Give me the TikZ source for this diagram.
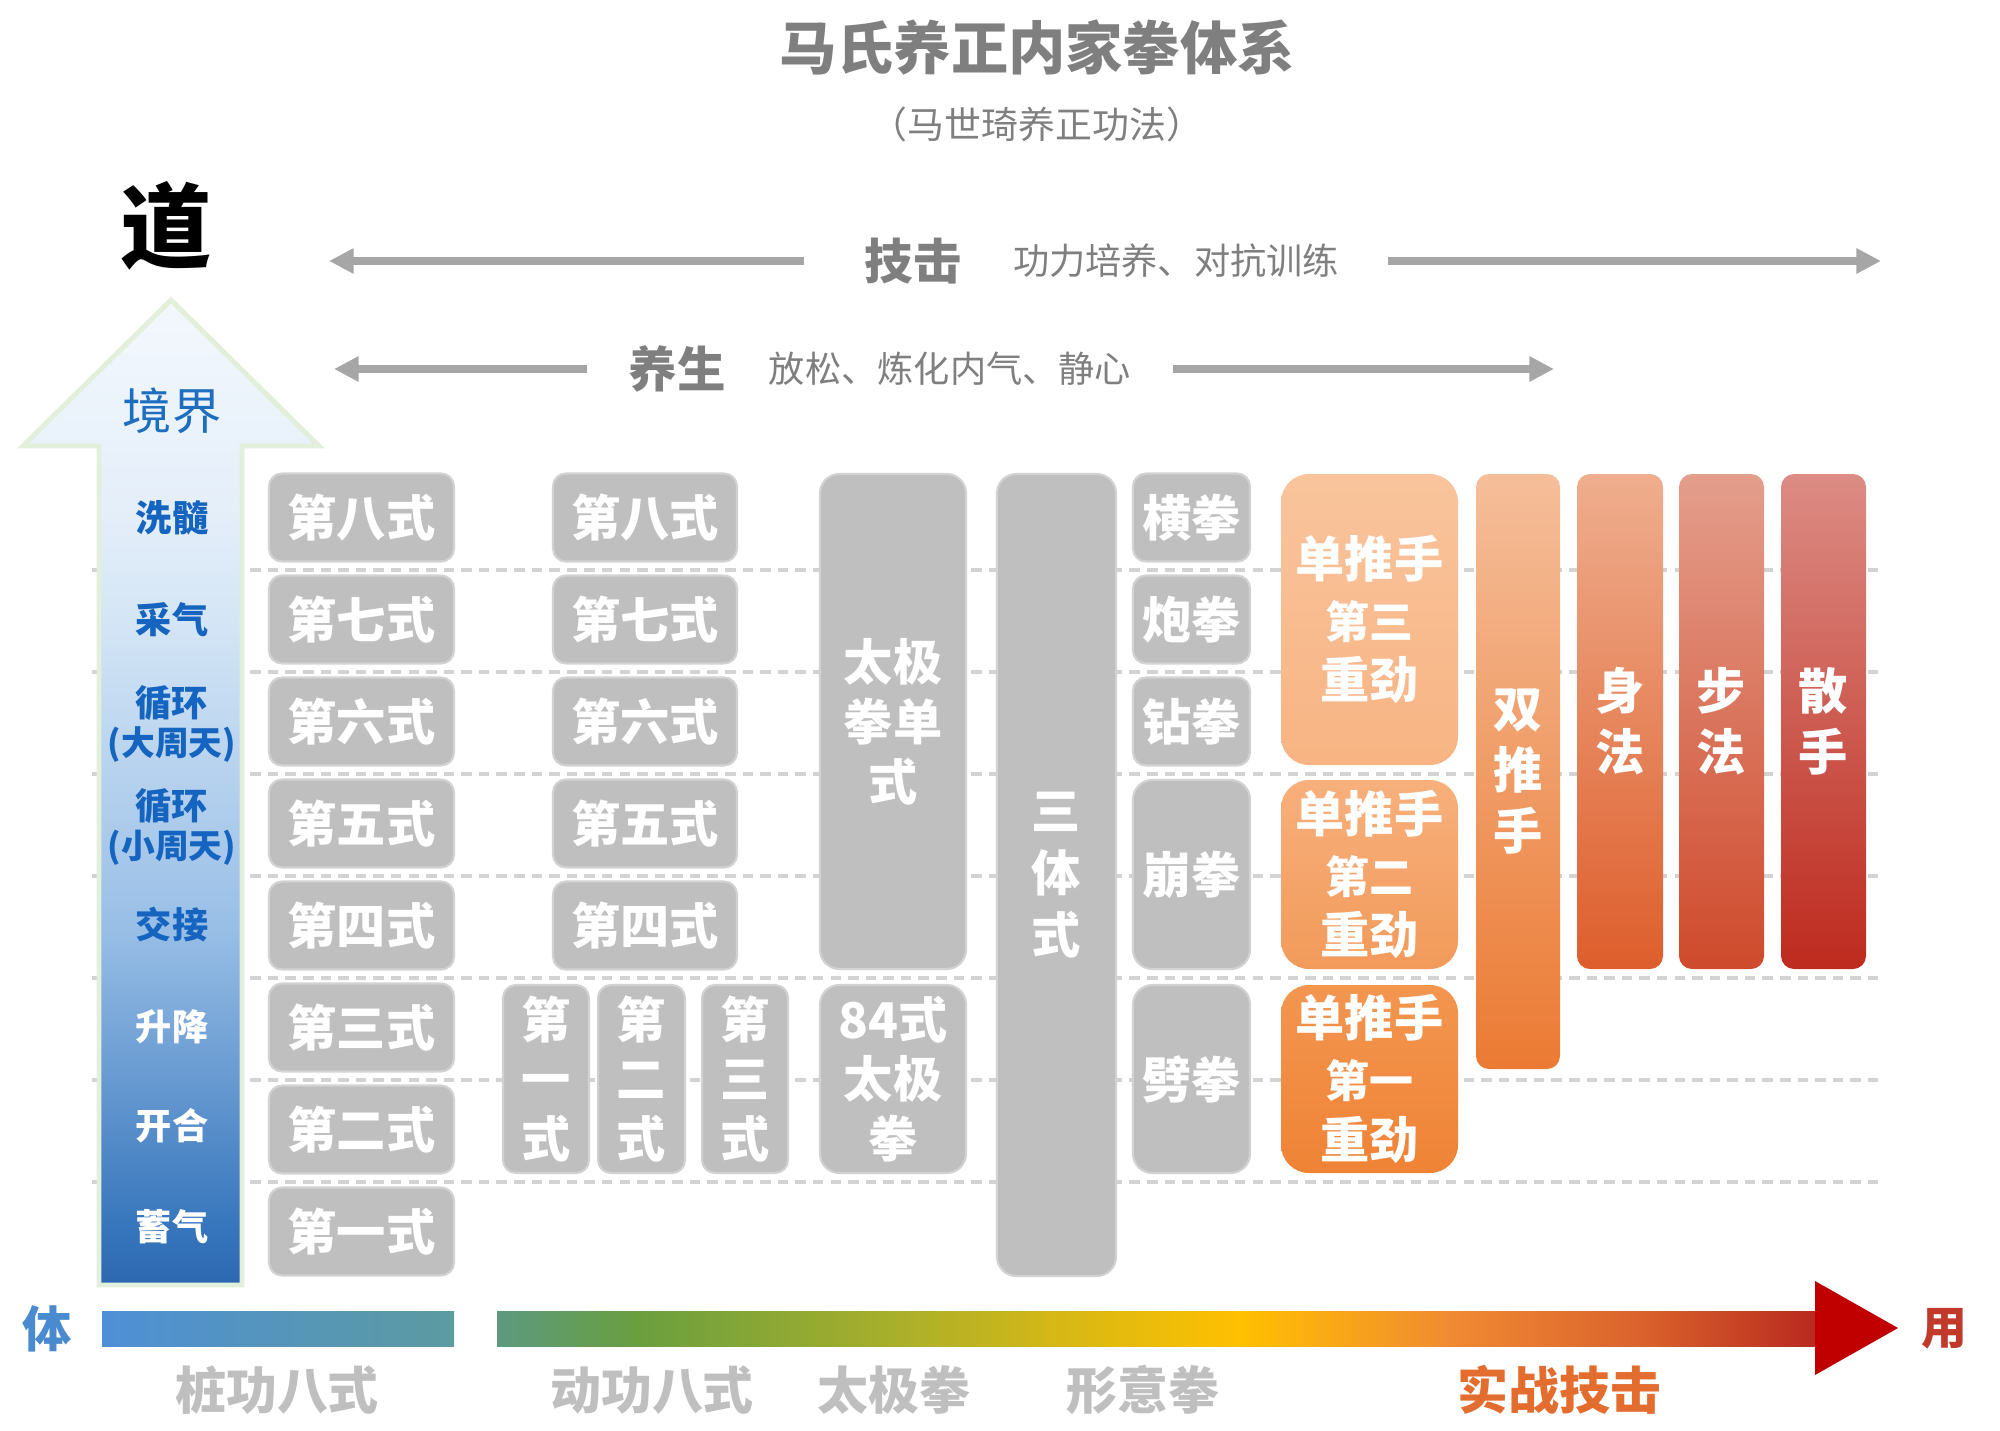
\documentclass[tikz,border=0pt]{standalone}
\usepackage{fontspec}
\setmainfont{Noto Sans CJK SC}
\usetikzlibrary{arrows.meta}

\newcommand\setfs[2]{\fontsize{#1pt}{#2pt}\selectfont}

\definecolor{titlegray}{HTML}{7F7F7F}
\definecolor{arrgray}{HTML}{A6A6A6}
\definecolor{gridgray}{HTML}{D3D3D3}
\definecolor{boxgray}{HTML}{BFBFBF}
\definecolor{boxline}{HTML}{D2D2D2}
\definecolor{lblue}{HTML}{1565C0}
\definecolor{jjblue}{HTML}{1E6EC0}
\definecolor{tiblue}{HTML}{4A8BD0}
\definecolor{yongred}{HTML}{C0392B}
\definecolor{shizhan}{HTML}{E36C2F}
\definecolor{arrred}{HTML}{C00000}
\definecolor{arrline}{HTML}{E2EFDA}
% orange columns
\definecolor{othreea}{HTML}{F9C49C}\definecolor{othreeb}{HTML}{F8B483}
\definecolor{otwoa}{HTML}{F7B07C}\definecolor{otwob}{HTML}{F29A5A}
\definecolor{oonea}{HTML}{F39650}\definecolor{ooneb}{HTML}{EF8335}
\definecolor{sta}{HTML}{F5BE9A}\definecolor{stb}{HTML}{EB7A33}
\definecolor{sfa}{HTML}{EFAE8E}\definecolor{sfb}{HTML}{DE5E2C}
\definecolor{bfa}{HTML}{E49E8C}\definecolor{bfb}{HTML}{CF4A2C}
\definecolor{ssa}{HTML}{DC8C84}\definecolor{ssb}{HTML}{BE2A1E}
% blue arrow
\definecolor{jja}{HTML}{2C68B0}\definecolor{jjb}{HTML}{3776BC}
\definecolor{jjc}{HTML}{98BEE6}\definecolor{jjd}{HTML}{D5E6F6}
\definecolor{jje}{HTML}{E4EEF9}\definecolor{jjf}{HTML}{F3F8FD}
% bottom bar
\definecolor{bara}{HTML}{5B9A80}\definecolor{barb}{HTML}{6A9F3E}
\definecolor{barc}{HTML}{AAB02A}\definecolor{bard}{HTML}{E0BA10}
\definecolor{bare}{HTML}{FFC000}\definecolor{barf}{HTML}{F08A32}
\definecolor{barg}{HTML}{D9602C}\definecolor{barh}{HTML}{B82A1E}
\definecolor{tbara}{HTML}{4E8FD6}\definecolor{tbarb}{HTML}{5C9BA0}

\pgfdeclareverticalshading{jjshade}{100bp}{color(0bp)=(jja); color(25bp)=(jja);
  color(28bp)=(jjb); color(43bp)=(jjc); color(59bp)=(jjd); color(64bp)=(jje);
  color(75bp)=(jjf); color(100bp)=(jjf)}
\pgfdeclarehorizontalshading{barshade}{100bp}{color(0bp)=(bara); color(25bp)=(bara);
  color(30.4bp)=(barb); color(40.3bp)=(barc); color(47.9bp)=(bard); color(53.2bp)=(bare);
  color(61.2bp)=(barf); color(68.7bp)=(barg); color(75bp)=(barh); color(100bp)=(barh)}

\tikzset{
  sz/.style 2 args={minimum width=#1*0.01cm, minimum height=#2*0.01cm},
  gbox/.style={draw=boxline, fill=boxgray, line width=0.6pt, rounded corners=3.7pt,
    inner sep=0pt, align=center, text=white, font=\bfseries\setfs{14}{17}},
  obox/.style={inner sep=0pt, align=center, text=white, rounded corners=3.7pt,
    font=\bfseries\setfs{14}{17.3}},
  garrow/.style={draw=arrgray, line width=2.2pt, -{Triangle[length=7pt,width=6.8pt]}},
  gridline/.style={draw=gridgray, line width=0.9pt, dash pattern=on 3pt off 2pt},
  hd/.style={text=titlegray, font=\bfseries\setfs{13.8}{16}},
  desc/.style={text=titlegray, font=\setfs{10.3}{12}},
  lbl/.style={text=lblue, align=center, font=\bfseries\setfs{10.3}{11}},
  bot/.style={text=boxgray, font=\bfseries\setfs{14.5}{17}}
}

\begin{document}
\begin{tikzpicture}[x=0.01cm,y=-0.01cm]
\useasboundingbox (0,0) rectangle (2000,1430);

% title
\node[text=titlegray, font=\bfseries\setfs{16.3}{19}] (title) at (1037,47) {马氏养正内家拳体系};
\node[text=titlegray, font=\setfs{10.5}{12}] (subtitle) at (1037,124) {（马世琦养正功法）};
\node[font=\bfseries\setfs{26}{30}] (dao) at (166,226) {道};

% 技击 / 养生 arrows
\node[hd] (jiji) at (913,261) {技击};
\node[desc] (jijid) at (1176,261) {功力培养、对抗训练};
\coordinate (jjL) at (329,261); \coordinate (jjA) at (804,261);
\coordinate (jjB) at (1388,261); \coordinate (jjR) at (1881,261);
\draw[garrow] (jjA) -- (jjL);
\draw[garrow] (jjB) -- (jjR);

\node[hd] (yangsheng) at (677,369) {养生};
\node[desc] (yangshengd) at (950,369) {放松、炼化内气、静心};
\coordinate (ysL) at (334,369); \coordinate (ysA) at (587,369);
\coordinate (ysB) at (1173,369); \coordinate (ysR) at (1554,369);
\draw[garrow] (ysA) -- (ysL);
\draw[garrow] (ysB) -- (ysR);

% dashed row lines
\foreach \y in {570,672,...,1182}
  \draw[gridline] (92,\y) -- (1880,\y);

% big blue arrow
\shadedraw[shading=jjshade, draw=arrline, line width=1.4pt]
  (171,300) -- (319,446) -- (242,446) -- (242,1285) -- (99,1285) -- (99,446) -- (23,446) -- cycle;
\node[text=jjblue, font=\setfs{14}{16}] (jingjie) at (172,411) {境界};
\node[lbl] (xisui) at (172,518) {洗髓};
\node[lbl] (caiqi) at (172,620) {采气};
\node[lbl] (xhda) at (172,724) {循环\\\setfs{9.6}{11}(大周天)};
\node[lbl] (xhxiao) at (172,827) {循环\\\setfs{9.6}{11}(小周天)};
\node[lbl] (jiaojie) at (172,925) {交接};
\node[lbl, text=white] (shengjiang) at (172,1027) {升降};
\node[lbl, text=white] (kaihe) at (172,1126) {开合};
\node[lbl, text=white] (xuqi) at (172,1227) {蓄气};

% 桩功八式
\foreach \r/\t in {8/八,7/七,6/六,5/五,4/四,3/三,2/二,1/一}
  \node[gbox, sz={185}{88}] (zg\r) at (361.5,{517.5+(8-\r)*102}) {第{\t}式};

% 动功八式
\foreach \r/\t in {8/八,7/七,6/六,5/五,4/四}
  \node[gbox, sz={184}{88}] (dg\r) at (645,{517.5+(8-\r)*102}) {第{\t}式};
\node[gbox, sz={86}{188}] (dg1) at (546,1079) {第\\一\\式};
\node[gbox, sz={87}{188}] (dg2) at (641.5,1079) {第\\二\\式};
\node[gbox, sz={86}{188}] (dg3) at (745,1079) {第\\三\\式};

% 太极拳
\node[gbox, sz={146}{495}, rounded corners=5.5pt] (tjdan) at (893,721.5) {太极\\拳单\\式};
\node[gbox, sz={146}{188}, rounded corners=5.5pt] (tj84) at (893,1079) {84式\\太极\\拳};

% 形意拳
\node[gbox, sz={119}{802}, rounded corners=5.5pt, font=\bfseries\setfs{14}{17.6}] (santi) at (1056.5,875) {三\\体\\式};
\node[gbox, sz={117}{88}] (heng) at (1191.5,517.5) {横拳};
\node[gbox, sz={117}{88}] (pao) at (1191.5,619.5) {炮拳};
\node[gbox, sz={117}{88}] (zuan) at (1191.5,721.5) {钻拳};
\node[gbox, sz={117}{189}, rounded corners=5.5pt] (beng) at (1191.5,874.5) {崩拳};
\node[gbox, sz={117}{188}, rounded corners=5.5pt] (pi) at (1191.5,1079) {劈拳};

% 推手 and 实战
\node[obox, sz={177}{291}, rounded corners=8pt, top color=othreea, bottom color=othreeb]
  (dtsan) at (1369.5,619.5) {单推手\\\setfs{12.5}{15.2}第三\\重劲};
\node[obox, sz={177}{189}, rounded corners=8pt, top color=otwoa, bottom color=otwob]
  (dter) at (1369.5,874.5) {单推手\\\setfs{12.5}{15.2}第二\\重劲};
\node[obox, sz={177}{188}, rounded corners=8pt, top color=oonea, bottom color=ooneb]
  (dtyi) at (1369.5,1079) {单推手\\\setfs{12.5}{15.2}第一\\重劲};
\node[obox, sz={84}{595}, top color=sta, bottom color=stb] (shuangtui) at (1518,771.5) {双\\推\\手};
\node[obox, sz={86}{495}, top color=sfa, bottom color=sfb] (shenfa) at (1620,721.5) {身\\法};
\node[obox, sz={85}{495}, top color=bfa, bottom color=bfb] (bufa) at (1721.5,721.5) {步\\法};
\node[obox, sz={85}{495}, top color=ssa, bottom color=ssb] (sanshou) at (1823.5,721.5) {散\\手};

% bottom bar
\node[text=tiblue, font=\bfseries\setfs{14}{16}] (ti) at (47,1329) {体};
\shade[left color=tbara, right color=tbarb] (102,1311) rectangle (454,1346);
\shade[shading=barshade] (497,1311) rectangle (1815,1346);
\fill[arrred] (1815,1281) -- (1898,1328) -- (1815,1375) -- cycle;
\node[text=yongred, font=\bfseries\setfs{13}{15}] (yong) at (1944,1329) {用};

\node[bot] (zhuanggong) at (277,1390) {桩功八式};
\node[bot] (donggong) at (652,1390) {动功八式};
\node[bot] (taiji) at (894,1390) {太极拳};
\node[bot] (xingyi) at (1143,1390) {形意拳};
\node[bot, text=shizhan] (shizhan) at (1559,1390) {实战技击};
\end{tikzpicture}
\end{document}
